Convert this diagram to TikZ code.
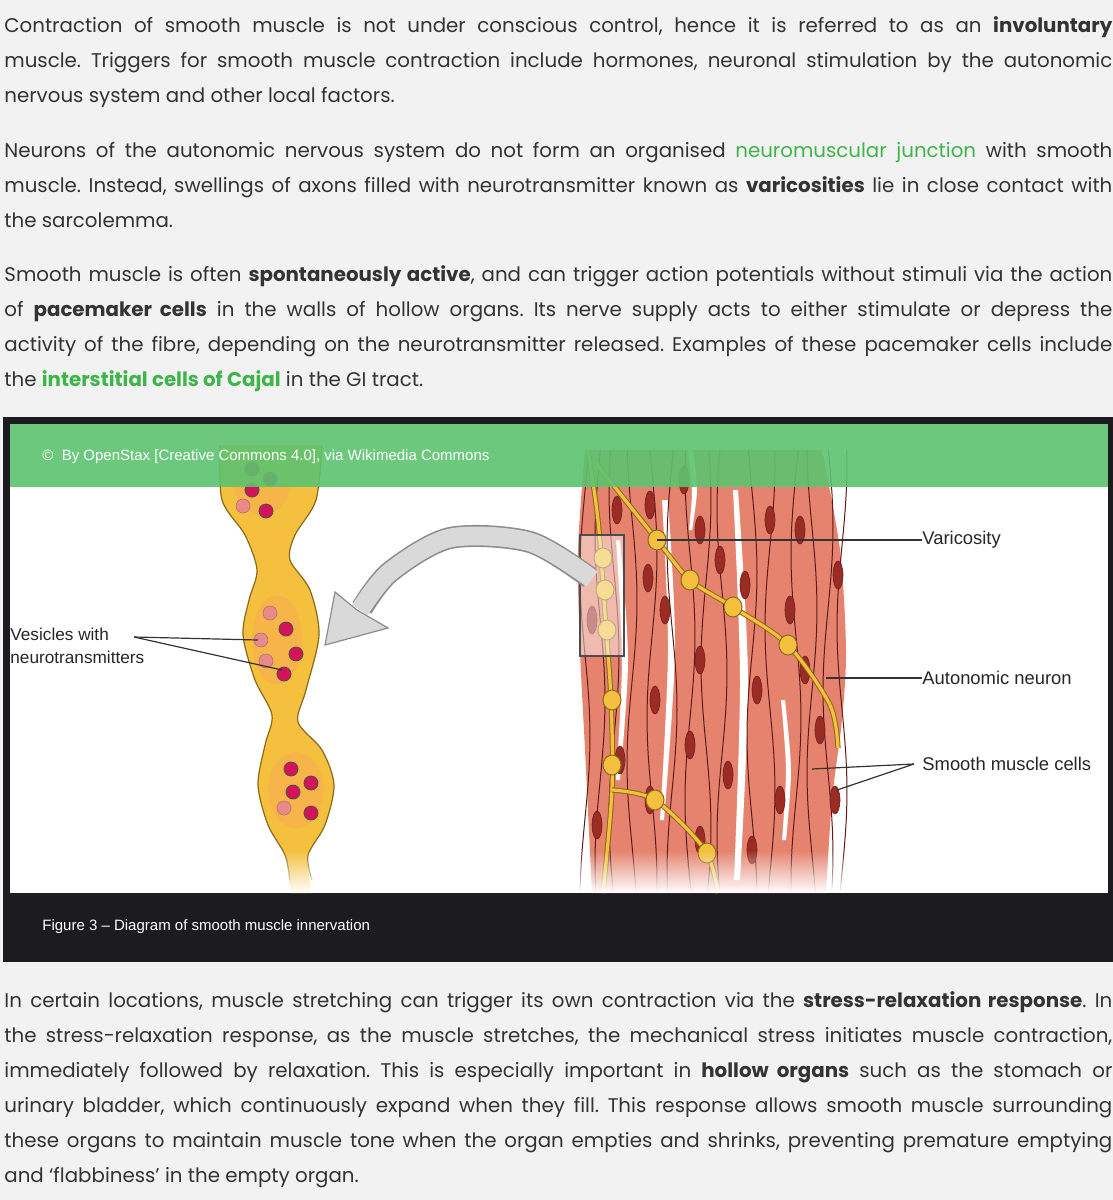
\documentclass[tikz,border=0pt]{standalone}
\usepackage{fontspec}
\setmainfont{Poppins}
\newfontfamily\arialf{Liberation Sans}
\usetikzlibrary{fadings}
\frenchspacing
\definecolor{bg}{HTML}{F2F2F2}
\definecolor{txt}{HTML}{333333}
\definecolor{lnk}{HTML}{3DB54A}
\definecolor{band}{HTML}{5DC36F}
\definecolor{dark}{HTML}{1C1C20}
\definecolor{yel}{HTML}{F4C03E}
\definecolor{yedge}{HTML}{8A6A1A}
\definecolor{sal}{HTML}{E5836E}
\definecolor{nucl}{HTML}{9B2C25}
\definecolor{mag}{HTML}{D4145A}
\definecolor{pal}{HTML}{E88A8A}
\tikzset{
 para/.style={anchor=north west,inner sep=0pt,text width=554pt,align=justify,text=txt,font=\fontsize{9.9}{17.5}\selectfont},
 lbl/.style={anchor=west,inner sep=0pt,font=\arialf\fontsize{9.2}{10}\selectfont,text=black!85},
 lead/.style={draw=black!80,line width=0.6pt},
 nuc/.style={fill=nucl,draw=nucl!70!black,line width=0.3pt},
 ves/.style={fill=mag,draw=black!70,line width=0.4pt},
 pves/.style={fill=pal,draw=pal!80!black,line width=0.3pt},
 var/.style={fill=yel,draw=yedge,line width=0.5pt},
 fib/.style={draw=nucl!60!black,line width=0.5pt},
 axon/.style={draw=yedge,line width=2.6pt},
 axonin/.style={draw=yel,line width=1.6pt},
}
\newcommand{\gtxt}[1]{\textcolor{lnk}{#1}}
\begin{document}
\begin{tikzpicture}[x=0.5pt,y=-0.5pt]
\useasboundingbox (0,0) rectangle (1113,1200);
\fill[bg] (0,0) rectangle (1113,1200);
% paragraphs
\node[para] (p1) at (4,16) {Contraction of smooth muscle is not under conscious control, hence it is referred to as an \textbf{involuntary}\linebreak muscle. Triggers for smooth muscle contraction include hormones, neuronal stimulation by the autonomic\linebreak nervous system and other local factors.};
\node[para] (p2) at (4,142) {Neurons of the autonomic nervous system do not form an organised \gtxt{neuromuscular junction} with smooth\linebreak muscle. Instead, swellings of axons filled with neurotransmitter known as \textbf{varicosities} lie in close contact with\linebreak the sarcolemma.};
\node[para] (p3) at (4,265) {Smooth muscle is often \textbf{spontaneously active}, and can trigger action potentials without stimuli via the action\linebreak of \textbf{pacemaker cells} in the walls of hollow organs. Its nerve supply acts to either stimulate or depress the\linebreak activity of the fibre, depending on the neurotransmitter released. Examples of these pacemaker cells include\linebreak the \textbf{\gtxt{interstitial cells of Cajal}} in the GI tract.};
\node[para] (p4) at (4,991) {In certain locations, muscle stretching can trigger its own contraction via the \textbf{stress-relaxation response}. In\linebreak the stress-relaxation response, as the muscle stretches, the mechanical stress initiates muscle contraction,\linebreak immediately followed by relaxation. This is especially important in \textbf{hollow organs} such as the stomach or\linebreak urinary bladder, which continuously expand when they fill. This response allows smooth muscle surrounding\linebreak these organs to maintain muscle tone when the organ empties and shrinks, preventing premature emptying\linebreak and ‘flabbiness’ in the empty organ.};
% figure frame
\fill[dark] (3,417) rectangle (1113,962);
\fill[white] (10,424) rectangle (1108,893);
% left neuron
\fill[yel] plot[smooth] coordinates {(220,445)(222,500)(245,535)(257,570)(249,600)(243,635)(255,680)(272,715)(265,745)(258,785)(268,825)(285,855)(290,893)}
 -- plot[smooth] coordinates {(312,893)(308,855)(325,825)(334,785)(322,750)(298,722)(306,690)(319,635)(310,590)(290,560)(295,535)(316,500)(322,445)} -- cycle;
\draw[yedge,line width=0.6pt] plot[smooth] coordinates {(220,445)(222,500)(245,535)(257,570)(249,600)(243,635)(255,680)(272,715)(265,745)(258,785)(268,825)(285,855)(290,880)};
\draw[yedge,line width=0.6pt] plot[smooth] coordinates {(322,445)(316,500)(295,535)(290,560)(310,590)(319,635)(306,690)(298,722)(322,750)(334,785)(325,825)(308,855)(312,880)};
\fill[orange!50!pink,opacity=0.35] (262,485) ellipse (28 and 30);
\fill[orange!50!pink,opacity=0.35] (277,640) ellipse (25 and 45);
\fill[orange!50!pink,opacity=0.35] (296,790) ellipse (28 and 38);
\foreach \p in {(252,469),(270,479),(252,490),(266,511),(286,629),(296,654),(284,674),(291,769),(311,783),(293,792),(311,813)} \draw[ves] \p circle (7);
\foreach \p in {(243,506),(270,613),(261,640),(266,661),(284,808)} \draw[pves] \p circle (7);
\node[lbl,align=left,anchor=north west,font=\arialf\fontsize{8.6}{11.5}\selectfont] (vlab) at (10,628) {Vesicles with\\neurotransmitters};
\coordinate (vj) at (134,637);
\draw[lead] (vj) -- (258,640);
\draw[lead] (vj) -- (282,670);
% muscle
\fill[sal] plot[smooth] coordinates {(585,450)(578,550)(580,650)(585,750)(592,893)} -- plot[smooth] coordinates {(826,893)(832,800)(842,720)(846,650)(840,550)(822,450)} -- cycle;
\fill[white] plot[smooth] coordinates {(620,540)(628,660)(620,780)} -- plot[smooth] coordinates {(616,780)(622,660)(616,540)} -- cycle;
\fill[white] plot[smooth] coordinates {(668,500)(675,650)(664,820)} -- plot[smooth] coordinates {(660,820)(668,650)(662,500)} -- cycle;
\fill[white] plot[smooth] coordinates {(738,490)(748,680)(740,880)} -- plot[smooth] coordinates {(734,880)(740,680)(733,490)} -- cycle;
\fill[white] plot[smooth] coordinates {(785,700)(791,770)(786,840)} -- plot[smooth] coordinates {(782,840)(786,770)(781,700)} -- cycle;
\fill[white] plot[smooth] coordinates {(693,450)(697,490)(692,530)} -- plot[smooth] coordinates {(689,530)(692,490)(688,450)} -- cycle;
\foreach \xo/\ph in {585/0,600/40,614/90,632/150,652/200,672/30,690/110,706/260,722/70,752/180,770/300,796/20,812/140,828/230,842/300}
 \draw[fib] plot[domain=450:893,samples=30,variable=\t] ({\xo+5*sin(\t*1.1+\ph)},\t);
\foreach \p in {(617,510),(650,505),(684,480),(700,530),(648,578),(720,560),(770,520),(800,530),(838,575),(592,620),(665,610),(745,585),(790,610),(700,660),(655,700),(757,690),(805,670),(690,745),(620,760),(728,775),(820,730),(780,800),(650,800),(597,825),(700,840),(752,850),(835,800)}
 \draw[nuc] \p ellipse (5 and 14);
% neuron right
\draw[axon] plot[smooth] coordinates {(588,450)(598,520)(604,600)(611,700)(612,790)(603,893)};
\draw[axonin] plot[smooth] coordinates {(588,450)(598,520)(604,600)(611,700)(612,790)(603,893)};
\draw[axon] plot[smooth] coordinates {(595,462)(657,540)(690,580)(733,607)(788,645)(830,705)(838,748)};
\draw[axonin] plot[smooth] coordinates {(595,462)(657,540)(690,580)(733,607)(788,645)(830,705)(838,748)};
\draw[axon] plot[smooth] coordinates {(612,790)(655,800)(705,850)(718,893)};
\draw[axonin] plot[smooth] coordinates {(612,790)(655,800)(705,850)(718,893)};
\foreach \p in {(657,540),(690,580),(733,607),(788,645),(612,700),(612,765),(655,800),(707,853),(603,558),(605,590),(607,630)} \draw[var] \p ellipse (9 and 10);
\draw[black!70,line width=0.6pt,fill=white,fill opacity=0.45] (580,535) rectangle (624,656);
% fade bottom
\fill[white,path fading=north] (200,850) rectangle (860,893);
% grey arrow
\draw[black!45,line width=11pt] plot[smooth] coordinates {(590,578)(530,542)(450,538)(390,572)(362,608)};
\draw[black!15,line width=9.4pt] plot[smooth] coordinates {(592,579)(530,542)(450,538)(390,572)(360,610)};
\draw[black!45,line width=0.6pt,fill=black!15] (325,645) -- (335,592) -- (357,610) -- (388,628) -- cycle;
% labels right
\node[lbl] (varl) at (922,540) {Varicosity};
\node[lbl] (autl) at (922,678) {Autonomic neuron};
\node[lbl] (smcl) at (922,764) {Smooth muscle cells};
\draw[lead] (657,540) -- (varl.west);
\draw[lead] (826,678) -- (autl.west);
\coordinate (sj) at (914,764);
\draw[lead] (812,769) -- (sj);
\draw[lead] (837,790) -- (sj);
% green band overlay
\fill[band,opacity=0.9] (10,424) rectangle (1108,487);
\node[anchor=west,inner sep=0pt,text=white,font=\arialf\fontsize{7.5}{8}\selectfont] (credit) at (42,457) {©\ \ By OpenStax [Creative Commons 4.0], via Wikimedia Commons};
\node[anchor=west,inner sep=0pt,text=white,font=\arialf\fontsize{7.5}{8}\selectfont] (cap) at (42,927) {Figure 3 – Diagram of smooth muscle innervation};
\end{tikzpicture}
\end{document}
